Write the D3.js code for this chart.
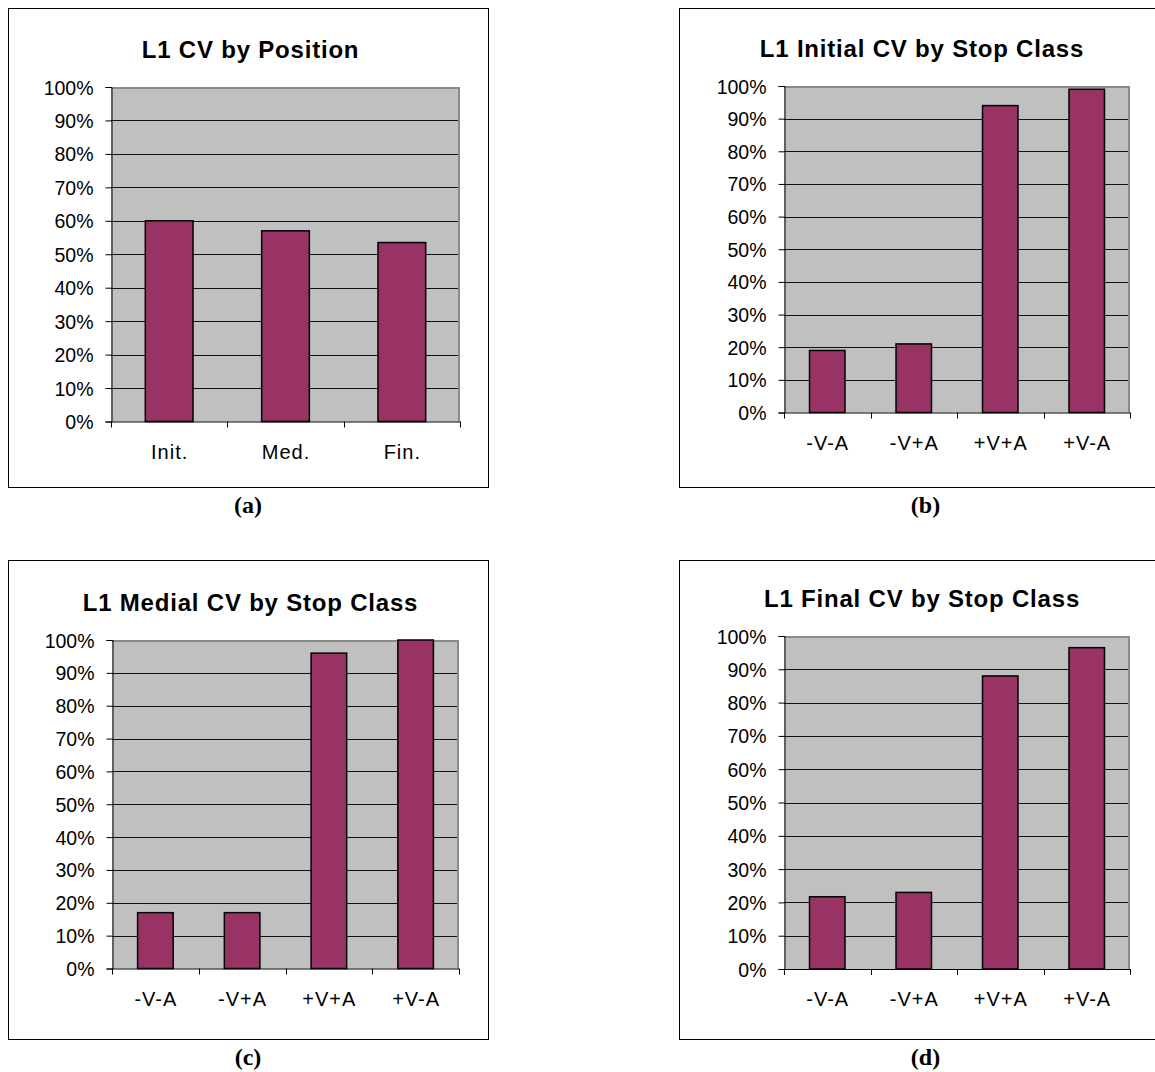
<!DOCTYPE html>
<html>
<head>
<meta charset="utf-8">
<script src="https://cdn.jsdelivr.net/npm/d3@7"></script>
<style>
  html, body { margin: 0; padding: 0; background: #fff; }
  svg { display: block; }
  .tick-label { font-family: "Liberation Sans", Arial, sans-serif; font-size: 19.5px; fill: #000; }
  .cat-label { font-family: "Liberation Sans", Arial, sans-serif; font-size: 20px; letter-spacing: 1px; fill: #000; }
  .title { font-family: "Liberation Sans", Arial, sans-serif; font-size: 24px; font-weight: bold; letter-spacing: 0.8px; fill: #000; }
  .caption { font-family: "Liberation Serif", "Times New Roman", serif; font-size: 24px; font-weight: bold; fill: #000; }
</style>
</head>
<body>
<svg id="chart" width="1155" height="1072"></svg>
<script>
// Category labels
const positionCats = ["Init.", "Med.", "Fin."];
const stopClasses = ["-V-A", "-V+A", "+V+A", "+V-A"];

// CV percentages
const positionCV = [60, 57, 53.5];
const initialCV = [19, 21, 94, 99];
const medialCV = [17, 17, 96, 100];
const finalCV = [21.7, 23, 88, 96.5];

// Y axis ticks (percent)
const yTicks = [0, 10, 20, 30, 40, 50, 60, 70, 80, 90, 100];

// Titles and captions
const titles = ["L1 CV by Position", "L1 Initial CV by Stop Class", "L1 Medial CV by Stop Class", "L1 Final CV by Stop Class"];
const captions = ["(a)", "(b)", "(c)", "(d)"];

// Panel layout: outer frame and plot rectangle
const panels = [
  { cats: positionCats, values: positionCV, title: titles[0], caption: captions[0],
    frame: { x: 8, y: 8, w: 480, h: 479 }, plot: { x0: 111, x1: 460, y0: 87, y1: 421.5 } },
  { cats: stopClasses, values: initialCV, title: titles[1], caption: captions[1],
    frame: { x: 679, y: 8, w: 493, h: 479 }, plot: { x0: 784, x1: 1130, y0: 86, y1: 412.5 } },
  { cats: stopClasses, values: medialCV, title: titles[2], caption: captions[2],
    frame: { x: 8, y: 560, w: 480, h: 479 }, plot: { x0: 112, x1: 459, y0: 640, y1: 968.5 } },
  { cats: stopClasses, values: finalCV, title: titles[3], caption: captions[3],
    frame: { x: 679, y: 560, w: 493, h: 479 }, plot: { x0: 784, x1: 1130, y0: 636, y1: 969 } }
];

const svg = d3.select("#chart");

panels.forEach(p => {
  const g = svg.append("g");
  const f = p.frame, r = p.plot;

  // Outer frame
  g.append("rect")
    .attr("x", f.x + 0.5).attr("y", f.y + 0.5)
    .attr("width", f.w).attr("height", f.h)
    .attr("fill", "#fff").attr("stroke", "#000").attr("stroke-width", 1);

  const x = d3.scaleBand().domain(p.cats).range([r.x0, r.x1])
    .paddingInner(0.59).paddingOuter(0.295);
  const y = d3.scaleLinear().domain([0, 100]).range([r.y1, r.y0]);

  // Plot area background
  g.append("rect")
    .attr("x", r.x0).attr("y", r.y0)
    .attr("width", r.x1 - r.x0).attr("height", r.y1 - r.y0)
    .attr("fill", "#c0c0c0");

  // Horizontal gridlines
  g.append("g").selectAll("line").data(yTicks.filter(t => t > 0 && t < 100)).join("line")
    .attr("x1", r.x0).attr("x2", r.x1)
    .attr("y1", d => Math.round(y(d)) + 0.5).attr("y2", d => Math.round(y(d)) + 0.5)
    .attr("stroke", "#111").attr("stroke-width", 1);

  // Plot area border (top and right)
  g.append("path")
    .attr("d", `M${r.x0},${r.y0 + 1}H${r.x1 - 1}V${r.y1}`)
    .attr("fill", "none").attr("stroke", "#8a8a8a").attr("stroke-width", 2);

  // Bars
  g.append("g").selectAll("rect").data(p.values).join("rect")
    .attr("x", (d, i) => x(p.cats[i]))
    .attr("y", d => y(d))
    .attr("width", x.bandwidth())
    .attr("height", d => y(0) - y(d))
    .attr("fill", "#993366")
    .attr("stroke", "#000").attr("stroke-width", 1.5);

  // Y axis
  const yAxis = d3.axisLeft(y).tickValues(yTicks).tickSize(6).tickPadding(12)
    .tickFormat(d => d + "%");
  const ya = g.append("g").attr("transform", `translate(${r.x0 + 0.5},0)`).call(yAxis);
  ya.select(".domain").attr("stroke", "#000");
  ya.selectAll(".tick line").attr("stroke", "#000");
  ya.selectAll(".tick text").attr("class", "tick-label").attr("dy", "0.36em")
    .attr("font-size", null).attr("font-family", null);
  ya.attr("font-size", null).attr("font-family", null);

  // X axis: line along the bottom with ticks at category boundaries
  const step = x.step();
  const bounds = d3.range(p.cats.length + 1).map(i => r.x0 + i * step);
  g.append("line")
    .attr("x1", r.x0).attr("x2", r.x1)
    .attr("y1", r.y1 + 0.5).attr("y2", r.y1 + 0.5)
    .attr("stroke", "#000");
  g.append("g").selectAll("line").data(bounds).join("line")
    .attr("x1", d => Math.round(d) + 0.5).attr("x2", d => Math.round(d) + 0.5)
    .attr("y1", r.y1).attr("y2", r.y1 + 6)
    .attr("stroke", "#000");

  // Category labels
  g.append("g").selectAll("text").data(p.cats).join("text")
    .attr("class", "cat-label")
    .attr("x", d => x(d) + x.bandwidth() / 2 + 0.5)
    .attr("y", r.y1 + 37)
    .attr("text-anchor", "middle")
    .text(d => d);

  // Title
  g.append("text").attr("class", "title")
    .attr("x", (r.x0 + r.x1) / 2 - 35)
    .attr("y", r.y0 - 29)
    .attr("text-anchor", "middle")
    .text(p.title);

  // Caption under the frame
  g.append("text").attr("class", "caption")
    .attr("x", f.x + f.w / 2)
    .attr("y", f.y + f.h + 26)
    .attr("text-anchor", "middle")
    .text(p.caption);
});
</script>
</body>
</html>
